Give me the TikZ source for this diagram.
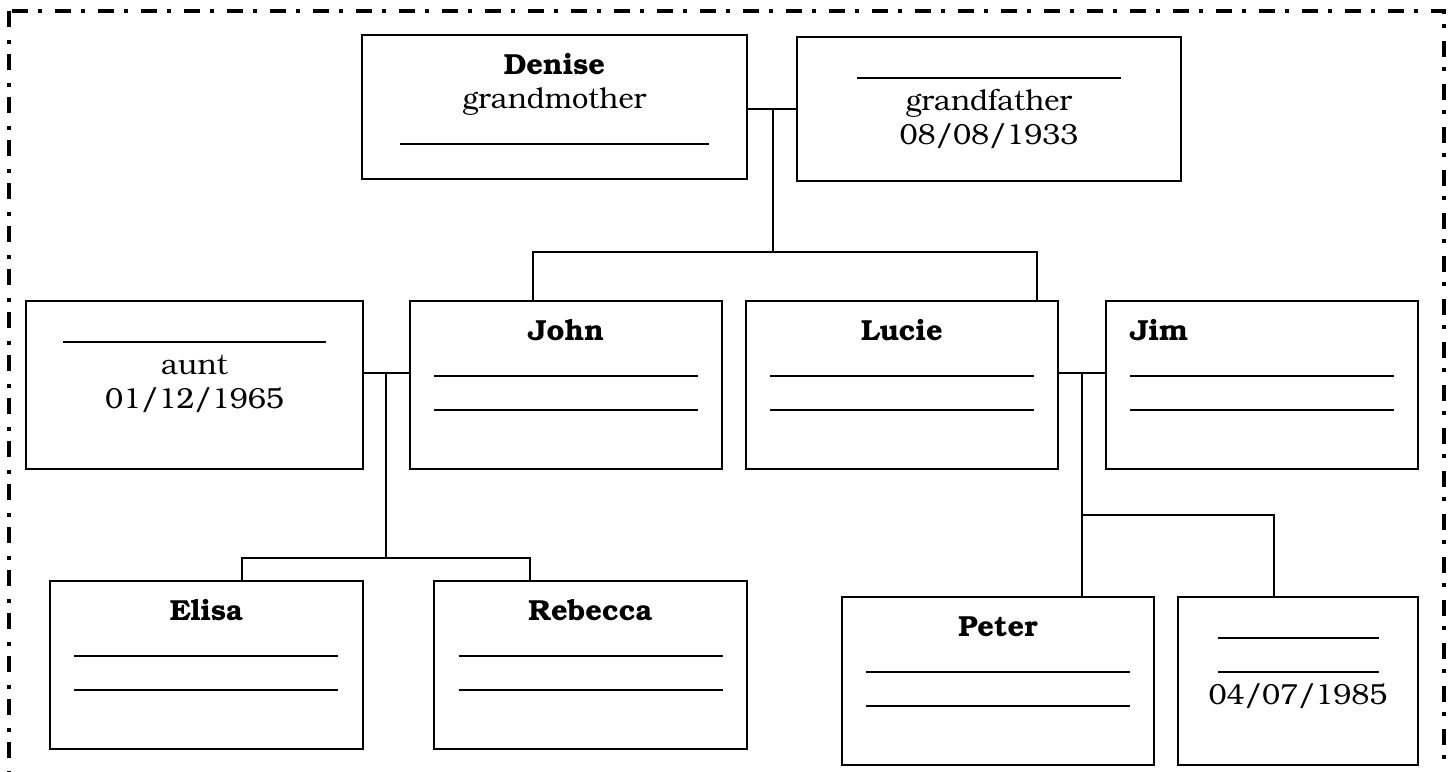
\documentclass[tikz,border=0pt]{standalone}
\usepackage[T1]{fontenc}
\usepackage{bookman}
\usetikzlibrary{calc}

\newcommand{\blank}[1][132pt]{\rule[-1.3pt]{#1}{0.75pt}}
\newcommand{\cardtext}[3]{\parbox[c][#2][t]{#1}{\centering\rule{0pt}{19.5pt}#3}}

\begin{document}
\begin{tikzpicture}[
 x=0.5pt,y=-0.5pt,
 card/.style={
      rectangle,
      draw=black,
      line width=1pt,
      inner sep=0pt,
      font=\fontsize{14.5}{17}\selectfont
   },
 link/.style={
      draw=black,
      line width=0.8pt
   },
 frame/.style={
      draw=black,
      line width=2pt,
      dash pattern=on 8pt off 6.5pt on 2pt off 5pt
   }
 ]
 \useasboundingbox (0,0) rectangle (1453,772);
 %ramecek
 \draw[frame] (9,11) rectangle (1444,800);

 %prarodice
 \node[card] (denise) at (554.5,107) {\cardtext{192.5pt}{72pt}{\textbf{Denise}\\grandmother\\\blank[154.5pt]}};
 \node[card] (gfather) at (989,109) {\cardtext{192pt}{72pt}{\blank\\grandfather\\08/08/1933}};

 %rodice
 \node[card] (aunt) at (194.5,385) {\cardtext{168.5pt}{84pt}{\blank\\aunt\\01/12/1965}};
 \node[card] (john) at (566,385) {\cardtext{156pt}{84pt}{\textbf{John}\\\blank\\\blank}};
 \node[card] (lucie) at (902,385) {\cardtext{156pt}{84pt}{\textbf{Lucie}\\\blank\\\blank}};
 \node[card] (jim) at (1262,385) {\cardtext{156pt}{84pt}{\makebox[132pt][l]{\textbf{Jim}}\\\blank\\\blank}};

 %deti
 \node[card] (elisa) at (206.5,665) {\cardtext{156.5pt}{84pt}{\textbf{Elisa}\\\blank\\\blank}};
 \node[card] (rebecca) at (590.5,665) {\cardtext{156.5pt}{84pt}{\textbf{Rebecca}\\\blank\\\blank}};
 \node[card] (peter) at (998,681) {\cardtext{156pt}{84pt}{\textbf{Peter}\\\blank\\\blank}};
 \node[card] (kid) at (1298,681) {\cardtext{120pt}{84pt}{\blank[80.5pt]\\\blank[80.5pt]\\04/07/1985}};

 %uzly
 \coordinate (gp) at (773,109);
 \coordinate (gpbar) at (773,252);
 \coordinate (jbar) at (386,373);
 \coordinate (jkids) at (386,558);
 \coordinate (lbar) at (1082,373);
 \coordinate (lkids) at (1082,515);

 %cary
 \draw[link] (denise.east |- gp) -- (gfather.west |- gp);
 \draw[link] (gp) -- (gpbar);
 \draw[link] (john.north -| 533,0) |- (gpbar) -| (lucie.north -| 1037,0);

 \draw[link] (aunt.east |- jbar) -- (john.west |- jbar);
 \draw[link] (jbar) -- (jkids);
 \draw[link] (elisa.north -| 242,0) |- (jkids) -| (rebecca.north -| 530,0);

 \draw[link] (lucie.east |- lbar) -- (jim.west |- lbar);
 \draw[link] (lbar) -- (peter.north -| lbar);
 \draw[link] (lkids) -| (kid.north -| 1274,0);
\end{tikzpicture}
\end{document}
